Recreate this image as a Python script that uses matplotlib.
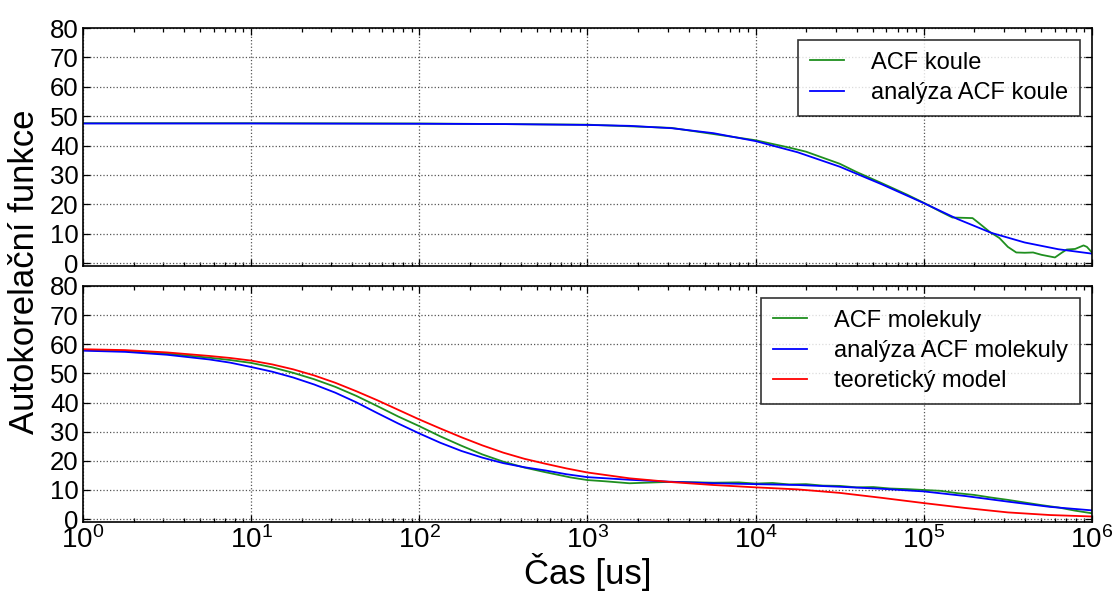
import numpy as np
import matplotlib
matplotlib.use('Agg')
import matplotlib.pyplot as plt

# time axis given as log10 of time in us
koule_fit_log = [0, 1, 2, 2.5, 3, 3.25, 3.5, 3.75, 4.0, 4.25, 4.5, 4.75, 5.0, 5.2, 5.4, 5.6, 5.8, 6.0]
koule_fit = [47.5, 47.5, 47.4, 47.3, 47.0, 46.7, 45.9, 44.2, 41.5, 37.7, 32.8, 26.8, 20.4, 15.0, 10.3, 7.0, 4.7, 3.2]

koule_acf_log = [0, 1, 2, 3, 3.5, 4.0, 4.2, 4.3, 4.5, 4.6, 4.75, 4.9, 5.0, 5.1, 5.17, 5.29,
                 5.33, 5.39, 5.45, 5.5, 5.55, 5.6, 5.65, 5.7, 5.78, 5.82, 5.85, 5.9, 5.95, 5.97, 6.0]
koule_acf = [47.6, 47.6, 47.5, 47.1, 46.0, 41.8, 39.3, 37.9, 33.8, 31.0, 27.2, 23.3, 20.5, 17.5, 15.5, 15.3,
             13.5, 10.7, 8.5, 5.5, 3.6, 3.5, 3.6, 2.8, 1.9, 3.5, 4.6, 4.8, 6.0, 5.5, 3.6]

mol_log = [0, 0.25, 0.5, 0.75, 0.875, 1.0, 1.125, 1.25, 1.375, 1.5, 1.625, 1.75, 1.875, 2.0, 2.125,
           2.25, 2.375, 2.5, 2.625, 2.75, 2.875, 3.0, 3.25, 3.5, 3.75, 4.0, 4.25, 4.5, 4.75, 5.0,
           5.25, 5.5, 5.75, 6.0]
mol_fit = [57.8, 57.4, 56.4, 54.8, 53.7, 52.2, 50.6, 48.6, 46.2, 43.4, 40.1, 36.4, 32.8, 29.4, 26.2,
           23.4, 21.1, 19.2, 17.8, 16.7, 15.4, 14.4, 13.5, 12.8, 12.3, 12.0, 11.7, 11.1, 10.4, 9.5,
           7.9, 6.0, 4.2, 3.0]
mol_model = [58.3, 58.0, 57.2, 56.0, 55.3, 54.4, 53.1, 51.4, 49.3, 46.8, 43.9, 40.8, 37.5, 34.2, 31.1,
             28.1, 25.3, 22.8, 20.7, 19.0, 17.4, 16.0, 14.0, 12.7, 11.7, 10.9, 10.2, 9.0, 7.3, 5.5,
             3.8, 2.3, 1.4, 0.9]

mol_acf_log = [0, 0.25, 0.5, 0.75, 0.875, 1.0, 1.125, 1.25, 1.375, 1.5, 1.625, 1.75, 1.875, 2.0, 2.125,
               2.25, 2.375, 2.5, 2.625, 2.75, 2.9, 3.0, 3.1, 3.25, 3.5, 3.75, 3.9, 4.0, 4.1, 4.2, 4.3,
               4.4, 4.5, 4.6, 4.7, 4.8, 4.9, 5.0, 5.1, 5.2, 5.3, 5.4, 5.5, 5.6, 5.7, 5.8, 5.9, 6.0]
mol_acf = [58.0, 57.7, 56.8, 55.4, 54.6, 53.6, 52.1, 50.2, 48.0, 45.4, 42.3, 38.8, 35.2, 31.9, 28.4,
           25.2, 22.2, 19.7, 17.7, 16.1, 14.3, 13.4, 13.0, 12.3, 12.8, 12.5, 12.6, 12.2, 12.4, 11.9, 12.0,
           11.5, 11.4, 10.9, 11.0, 10.5, 10.3, 10.0, 9.7, 8.9, 8.3, 7.4, 6.6, 5.7, 4.8, 4.0, 2.9, 2.0]

plt.rcParams['font.family'] = ['Liberation Sans', 'DejaVu Sans']
plt.rcParams['mathtext.fontset'] = 'custom'
plt.rcParams['mathtext.rm'] = 'Liberation Sans'
plt.rcParams['mathtext.it'] = 'Liberation Sans:italic'
plt.rcParams['xtick.direction'] = 'in'
plt.rcParams['ytick.direction'] = 'in'
plt.rcParams['xtick.top'] = True
plt.rcParams['ytick.right'] = True
plt.rcParams['xtick.major.size'] = 5
plt.rcParams['ytick.major.size'] = 5
plt.rcParams['xtick.minor.size'] = 3
plt.rcParams['ytick.minor.size'] = 3
plt.rcParams['xtick.labelsize'] = 20
plt.rcParams['ytick.labelsize'] = 18.5
plt.rcParams['axes.linewidth'] = 1.2

fig = plt.figure(figsize=(11.18, 5.92), dpi=100)
ax1 = fig.add_axes([0.0742, 0.5507, 0.9025, 0.402])
ax2 = fig.add_axes([0.0742, 0.1182, 0.9025, 0.3987], sharex=ax1)

ax1.plot(10 ** np.array(koule_acf_log), koule_acf, color='#1f8f1f', lw=1.3, label='ACF koule')
ax1.plot(10 ** np.array(koule_fit_log), koule_fit, color='#0000ff', lw=1.3, label='analýza ACF koule')

ax2.plot(10 ** np.array(mol_acf_log), mol_acf, color='#1f8f1f', lw=1.3, label='ACF molekuly')
ax2.plot(10 ** np.array(mol_log), mol_fit, color='#0000ff', lw=1.3, label='analýza ACF molekuly')
ax2.plot(10 ** np.array(mol_log), mol_model, color='#ff0000', lw=1.3, label='teoretický model')

for ax in (ax1, ax2):
    ax.set_xscale('log')
    ax.set_xlim(1, 1e6)
    ax.set_ylim(-1, 80)
    ax.set_yticks(range(0, 81, 10))
    ax.grid(True, which='major', color='#555555', linestyle=':', linewidth=0.9)
    ax.tick_params(which='both', width=0.9)
    ax.tick_params(axis='y', pad=3)
    leg = ax.legend(loc='upper right', fontsize=17, fancybox=False, handlelength=1.45,
                    handletextpad=1.15, borderpad=0.5, labelspacing=0.35)
    leg.get_frame().set_edgecolor('black')
    leg.get_frame().set_linewidth(1.2)

ax1.tick_params(axis='x', labelbottom=False)
ax2.tick_params(axis='x', pad=3)

fig.text(0.022, 0.5405, 'Autokorelační funkce', rotation=90, fontsize=25, ha='center', va='center')
fig.text(0.5255, 0.034, 'Čas [us]', fontsize=25, ha='center', va='center')

fig.savefig('out.png', dpi=100)
